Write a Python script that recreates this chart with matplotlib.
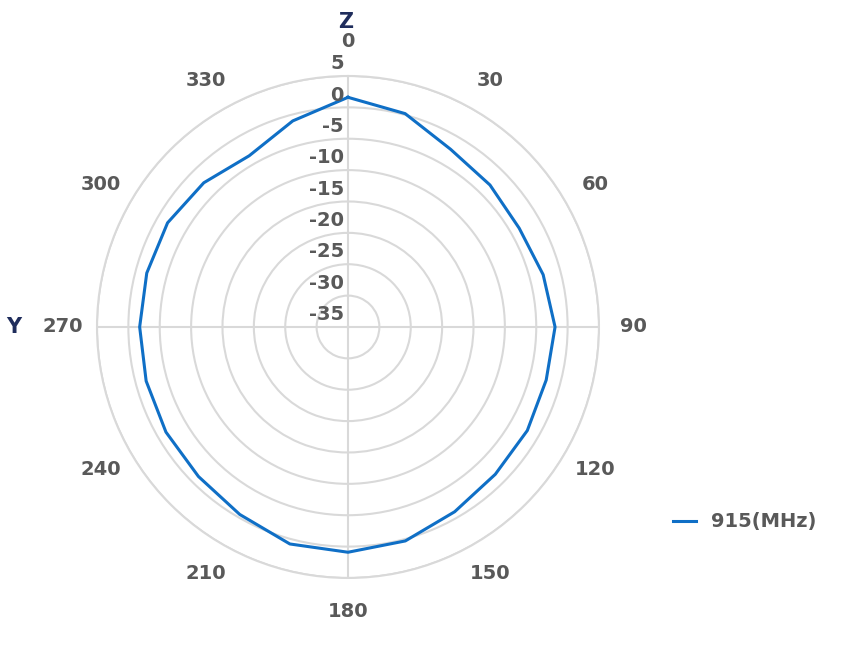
import numpy as np
import matplotlib
matplotlib.use("Agg")
import matplotlib.pyplot as plt

angles_deg = [0,15,30,45,60,75,90,105,120,135,150,165,180,195,210,225,240,255,270,285,300,315,330,345,360]
gain_db = [1.6,0.2,-2.3,-3.0,-3.5,-2.8,-2.0,-2.3,-2.0,-1.8,-1.0,0.3,0.9,0.8,-0.5,-1.3,-1.5,-1.7,-1.8,-1.8,-1.8,-2.5,-3.5,-1.0,1.6]
theta_ticks = [0,30,60,90,120,150,180,210,240,270,300,330]
r_ticks = [-35,-30,-25,-20,-15,-10,-5,0,5]

fig = plt.figure(figsize=(8.47,6.55), dpi=100)
ax = fig.add_axes([0.1145,0.1176,0.5927,0.7664], projection='polar')
ax.set_theta_zero_location('N')
ax.set_theta_direction(-1)
ax.set_ylim(-35,5)
for th in [0,90,180,270]:
    ax.plot([np.deg2rad(th)]*2, [-35,5], color='#D9D9D9', lw=1.5, zorder=1)
ax.plot(np.deg2rad(angles_deg), gain_db, color='#0F6FC6', lw=2.2, label='915(MHz)', zorder=3)
ax.set_xticks(np.deg2rad(theta_ticks))
ax.set_xticklabels([str(t) for t in theta_ticks], fontsize=14, fontweight='bold', color='#595959')
ax.tick_params(axis='x', pad=14)
ax.xaxis.grid(False)
ax.set_yticks(r_ticks)
ax.set_yticklabels([])
ax.yaxis.grid(True, color='#D9D9D9', lw=1.5)
for r in r_ticks:
    ax.annotate(str(r), xy=(0, r), xytext=(-3, 2), textcoords='offset points',
                ha='right', va='bottom', fontsize=14, fontweight='bold', color='#595959')
ax.spines['polar'].set_color('#D9D9D9')
ax.spines['polar'].set_linewidth(1.5)
fig.text(346/847, 1-22/655, 'Z', ha='center', va='center', fontsize=15, fontweight='bold', color='#1F2D5C')
fig.text(14/847, 1-327/655, 'Y', ha='center', va='center', fontsize=15, fontweight='bold', color='#1F2D5C')
fig.legend(loc='center left', bbox_to_anchor=(655/847, 1-522/655), frameon=False,
           prop={'size':14,'weight':'bold'}, labelcolor='#595959', handlelength=1.2)
fig.savefig('out.png', dpi=100)
